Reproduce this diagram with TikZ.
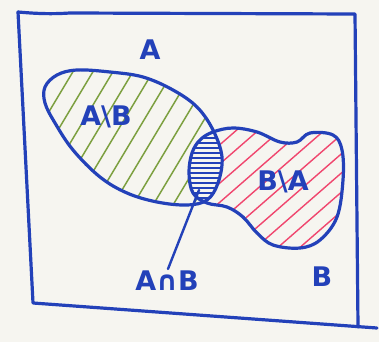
\documentclass[tikz,border=0pt]{standalone}
\usepackage{fontspec}
\setmainfont{DejaVu Sans}
\definecolor{pen}{RGB}{35,65,185}
\definecolor{grn}{RGB}{125,160,65}
\definecolor{rd}{RGB}{240,70,110}
\definecolor{paper}{RGB}{246,245,240}
\tikzset{
  outline/.style={draw=pen, line width=3.2pt, line cap=round, line join=round},
  lbl/.style={text=pen, font=\fontsize{27}{27}\selectfont\bfseries, inner sep=0pt},
  ghatch/.style={draw=grn, line width=1.5pt},
  rhatch/.style={draw=rd, line width=1.4pt},
  bhatch/.style={draw=pen, line width=2.2pt}
}
\def\Apath{plot[smooth cycle, tension=0.6] coordinates {(45,87) (57,75) (77,70) (110,72) (143,77) (173,90) (197,107) (213,130) (222,157) (218,183) (207,200) (187,205) (157,202) (127,193) (100,177) (73,150) (55,123) (45,103)}}
\def\Bpath{plot[smooth cycle, tension=0.6] coordinates {(192,153) (200,140) (213,132) (233,128) (257,132) (280,142) (297,142) (310,133) (333,135) (342,150) (343,180) (337,217) (320,240) (300,248) (273,245) (257,233) (243,217) (227,207) (207,203) (193,193) (189,173)}}
\begin{document}
\begin{tikzpicture}[x=1pt,y=-1pt]
\useasboundingbox (0,0) rectangle (379,342);
\fill[paper] (0,0) rectangle (379,342);
% frame
\draw[outline] (18,12) .. controls (40,14) and (55,14) .. (70,13) -- (355,14) -- (358,327);
\draw[outline] (18,12) -- (33,303) -- (377,328);
% green hatching in A
\begin{scope}
  \clip \Apath;
  \foreach \x in {-120,-100,...,260} \draw[ghatch] (\x,260) -- ++(156,-260);
\end{scope}
% red hatching in B
\begin{scope}
  \clip \Bpath;
  \foreach \x in {-100,-78,...,360} \draw[rhatch] (\x,270) -- ++(310,-270);
\end{scope}
% intersection
\begin{scope}
  \clip \Apath;
  \fill[paper] \Bpath;
  \clip \Bpath;
  \foreach \y in {128,133,...,210} \draw[bhatch] (180,\y) -- (230,\y);
\end{scope}
% outlines
\draw[outline] \Apath;
\draw[outline] \Bpath;
% labels
\node[lbl] (la) at (150,50) {A};
\node[lbl] (lamb) at (106,117) {A\textbackslash B};
\node[lbl] (lbma) at (283,182) {B\textbackslash A};
\node[lbl] (lb) at (322,277) {B};
\node[lbl] (lcap) at (167,281) {A∩B};
\coordinate (pin) at (199,190);
\draw[pen, line width=2.4pt, line cap=round] (lcap.north) ++(1,-2) -- (pin);
\end{tikzpicture}
\end{document}
